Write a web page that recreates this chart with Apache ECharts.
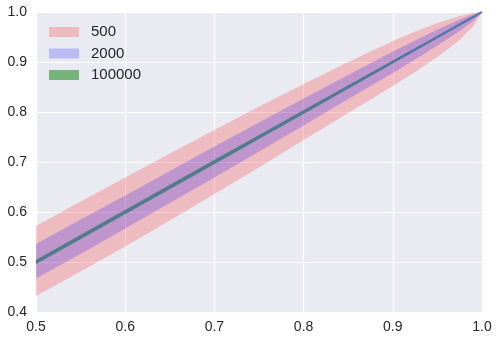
<!DOCTYPE html>
<html>
<head>
<meta charset="utf-8">
<script src="https://cdn.jsdelivr.net/npm/echarts@6/dist/echarts.min.js"></script>
<style>
html,body{margin:0;padding:0;background:#ffffff;}
#chart{width:499px;height:339px;}
</style>
</head>
<body>
<div id="chart"></div>
<script>
// x samples
const xs = [0.5, 0.55, 0.6, 0.65, 0.7, 0.75, 0.8, 0.85, 0.9, 0.925, 0.95, 0.975, 0.99, 1.0];
// band "500"
const lo500 = [0.432, 0.481, 0.531, 0.583, 0.636, 0.689, 0.744, 0.798, 0.852, 0.880, 0.910, 0.944, 0.971, 1.0];
const hi500 = [0.572, 0.621, 0.669, 0.717, 0.764, 0.811, 0.856, 0.900, 0.942, 0.961, 0.978, 0.992, 0.998, 1.0];
// band "2000"
const lo2000 = [0.467, 0.516, 0.567, 0.618, 0.669, 0.721, 0.773, 0.826, 0.878, 0.905, 0.933, 0.962, 0.982, 1.0];
const hi2000 = [0.536, 0.585, 0.633, 0.682, 0.731, 0.779, 0.827, 0.874, 0.921, 0.943, 0.965, 0.985, 0.995, 1.0];
// band "100000"
const lo100k = [0.4953, 0.5453, 0.5954, 0.6455, 0.6957, 0.7459, 0.7962, 0.8466, 0.8972, 0.9225, 0.9480, 0.9735, 0.9891, 1.0];
const hi100k = [0.5047, 0.5547, 0.6046, 0.6545, 0.7043, 0.7541, 0.8038, 0.8534, 0.9028, 0.9275, 0.9520, 0.9765, 0.9909, 1.0];
// diagonal line
const diagY = [0.5, 0.55, 0.6, 0.65, 0.7, 0.75, 0.8, 0.85, 0.9, 0.925, 0.95, 0.975, 0.99, 1.0];
// ticks
const xTicks = [0.5, 0.6, 0.7, 0.8, 0.9, 1.0];
const yTicks = [0.4, 0.5, 0.6, 0.7, 0.8, 0.9, 1.0];
const bandNames = ['500', '2000', '100000'];

const bandColors = ['rgba(255,0,0,0.2)', 'rgba(0,0,255,0.2)', 'rgba(0,128,0,0.5)'];
const bands = [[lo500, hi500], [lo2000, hi2000], [lo100k, hi100k]];

const series = [];
bands.forEach(function (b, k) {
  const lo = b[0], hi = b[1];
  series.push({
    name: bandNames[k],
    type: 'custom',
    silent: true,
    itemStyle: { color: bandColors[k] },
    data: [[xs[0], lo[0]]],
    z: 2 + k,
    renderItem: function (params, api) {
      const pts = [];
      for (let i = 0; i < xs.length; i++) pts.push(api.coord([xs[i], hi[i]]));
      for (let i = xs.length - 1; i >= 0; i--) pts.push(api.coord([xs[i], lo[i]]));
      return {
        type: 'polygon',
        shape: { points: pts, smooth: 0 },
        style: { fill: bandColors[k], stroke: null }
      };
    }
  });
});
series.push({
  name: 'diag',
  type: 'line',
  data: xs.map(function (x, i) { return [x, diagY[i]]; }),
  showSymbol: false,
  symbol: 'none',
  lineStyle: { color: '#4c72b0', width: 2.4, opacity: 0.85 },
  silent: true,
  z: 10
});

const chart = echarts.init(document.getElementById('chart'), null, { renderer: 'canvas' });
chart.setOption({
  animation: false,
  backgroundColor: '#ffffff',
  textStyle: { fontFamily: 'Liberation Sans, Arial, sans-serif' },
  grid: {
    left: 36, right: 17, top: 12, bottom: 27,
    show: true, backgroundColor: '#eaeaf2', borderWidth: 0
  },
  legend: {
    data: bandNames.map(function (n, k) { return { name: n, itemStyle: { color: bandColors[k] } }; }),
    orient: 'vertical',
    left: 49, top: 24,
    icon: 'rect',
    itemWidth: 30, itemHeight: 10,
    itemGap: 5.5,
    selectedMode: false,
    textStyle: { fontSize: 15, color: '#262626', lineHeight: 16, padding: [0, 0, 0, 7], fontFamily: 'Liberation Sans, Arial, sans-serif' },
    padding: 0
  },
  xAxis: {
    type: 'value',
    min: 0.5, max: 1.0, interval: 0.1,
    axisLine: { show: false },
    axisTick: { show: false },
    splitLine: { show: true, lineStyle: { color: '#ffffff', width: 1.2 } },
    axisLabel: {
      color: '#262626', fontSize: 14, margin: 8,
      formatter: function (v) { return v.toFixed(1); }
    }
  },
  yAxis: {
    type: 'value',
    min: 0.4, max: 1.0, interval: 0.1,
    axisLine: { show: false },
    axisTick: { show: false },
    splitLine: { show: true, lineStyle: { color: '#ffffff', width: 1.2 } },
    axisLabel: {
      color: '#262626', fontSize: 14, margin: 9,
      formatter: function (v) { return v.toFixed(1); }
    }
  },
  series: series
});
</script>
</body>
</html>
